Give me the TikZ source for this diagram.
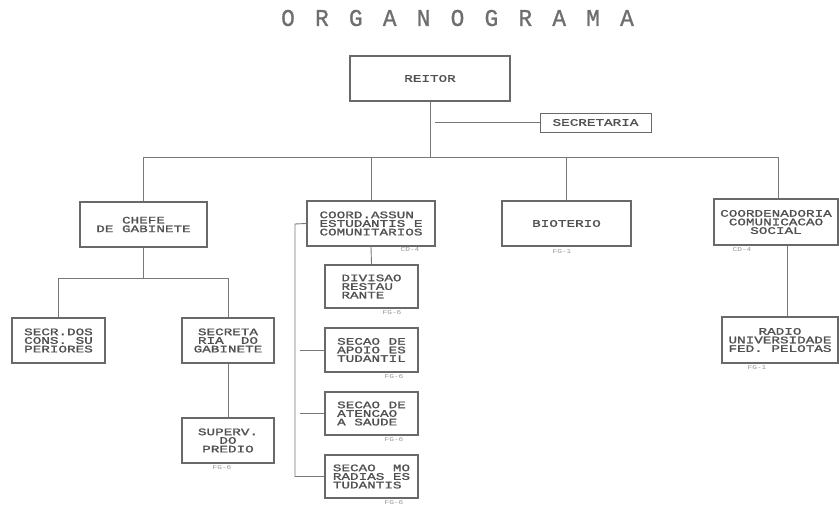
\documentclass[tikz,border=0pt]{standalone}
\usepackage{fontspec}
\newfontfamily\dotfont[FakeStretch=1.3]{Liberation Mono}
\newfontfamily\dotbold[FakeStretch=1.43,FakeBold=1.5]{Liberation Mono}
\newfontfamily\ttlfont[FakeStretch=0.95,FakeBold=1]{Liberation Mono}
\definecolor{boxgray}{RGB}{105,105,105}
\definecolor{linegray}{RGB}{120,120,120}
\definecolor{txtgray}{RGB}{80,80,80}
\definecolor{ttlgray}{RGB}{110,110,110}
\definecolor{lblgray}{RGB}{150,150,150}
\begin{document}
\begin{tikzpicture}[x=1pt,y=-1pt,
  orgbox/.style={draw=boxgray,line width=2.2pt,inner sep=0pt,
    font=\dotbold\fontsize{10}{8.6}\selectfont,text=txtgray,align=center},
  leftbox/.style={orgbox,align=left},
  conn/.style={draw=linegray,line width=0.9pt},
  lbl/.style={font=\dotfont\fontsize{6}{6}\selectfont,text=lblgray,inner sep=0pt},
  ttl/.style={font=\ttlfont\fontsize{24}{24}\selectfont,text=ttlgray,inner sep=0pt}]
\useasboundingbox (0,0) rectangle (839,506);
% title
\foreach \c [count=\i from 0] in {O,R,G,A,N,O,G,R,A,M,A}
  \node[ttl] (t\i) at (288+33.9*\i,18) {\c};
% boxes
\node[orgbox,minimum width=160,minimum height=45] (reitor) at (430,78.5) {REITOR};
\node[orgbox,line width=1pt,minimum width=111,minimum height=19] (sec) at (595.5,122.5) {SECRETARIA};
\node[orgbox,minimum width=127,minimum height=45] (chefe) at (143.5,224.5) {CHEFE\\DE GABINETE};
\node[leftbox,minimum width=128,minimum height=45] (coord) at (371,223.5) {COORD.ASSUN\\ESTUDANTIS E\\COMUNITARIOS};
\node[orgbox,minimum width=129,minimum height=45] (bio) at (566.5,223.5) {BIOTERIO};
\node[orgbox,minimum width=124,minimum height=46] (coordn) at (776,222) {COORDENADORIA\\COMUNICACAO\\SOCIAL};
\node[leftbox,minimum width=93,minimum height=45] (secr) at (58.5,340.5) {SECR.DOS\\CONS. SU\\PERIORES};
\node[orgbox,minimum width=92,minimum height=45] (secreta) at (228,340.5) {SECRETA\\RIA~~DO\\GABINETE};
\node[orgbox,minimum width=92,minimum height=45] (superv) at (228,440.5) {SUPERV.\\DO\\PREDIO};
\node[leftbox,minimum width=93,minimum height=43] (divisao) at (371.5,286.5) {DIVISAO\\RESTAU\\RANTE~~~};
\node[leftbox,minimum width=93,minimum height=44] (apoio) at (371.5,350) {SECAO DE\\APOIO ES\\TUDANTIL};
\node[leftbox,minimum width=93,minimum height=43] (atencao) at (371.5,413.5) {SECAO DE\\ATENCAO~\\A SAUDE~};
\node[leftbox,minimum width=93,minimum height=43] (moradias) at (371.5,476.5) {SECAO~~MO\\RADIAS ES\\TUDANTIS~};
\node[orgbox,minimum width=116,minimum height=46] (radio) at (780,340) {RADIO\\UNIVERSIDADE\\FED. PELOTAS};
% small labels
\node[lbl] (l1) at (410,250) {CD-4};
\node[lbl] (l2) at (562,252) {FG-1};
\node[lbl] (l3) at (742,250) {CD-4};
\node[lbl] (l4) at (757,368) {FG-1};
\node[lbl] (l5) at (222,468) {FG-6};
\node[lbl] (l6) at (392,313) {FG-6};
\node[lbl] (l7) at (394,377) {FG-6};
\node[lbl] (l8) at (394,440) {FG-6};
\node[lbl] (l9) at (394,503) {FG-6};
% connectors
\coordinate (busL) at (143.5,157);
\coordinate (busR) at (778,157);
\draw[conn] (reitor.south) -- (reitor.south |- busL);
\draw[conn] (busL) -- (busR);
\coordinate (secst) at (435,122.5);
\draw[conn] (secst) -- (sec.west);
\draw[conn] (busL) -- (chefe.north);
\draw[conn] (coord.north |- busL) -- (coord.north);
\draw[conn] (bio.north |- busL) -- (bio.north);
\draw[conn] (busR) -- (busR |- coordn.north);
\coordinate (cg) at (143.5,278);
\draw[conn] (chefe.south) -- (cg);
\draw[conn] (secr.north |- cg) -- (secreta.north |- cg);
\draw[conn] (secr.north |- cg) -- (secr.north);
\draw[conn] (secreta.north |- cg) -- (secreta.north);
\draw[conn] (secreta.south) -- (superv.north);
\draw[conn] (coord.south) -- (divisao.north);
\coordinate (sp) at (295,224);
\draw[conn] (coord.west) -- (sp) -- (sp |- moradias.west) -- (moradias.west);
\coordinate (stx) at (300,0);
\draw[conn] (stx |- apoio.west) -- (apoio.west);
\draw[conn] (stx |- atencao.west) -- (atencao.west);
\coordinate (rx) at (787,0);
\draw[conn] (rx |- coordn.south) -- (rx |- radio.north);
\end{tikzpicture}
\end{document}
